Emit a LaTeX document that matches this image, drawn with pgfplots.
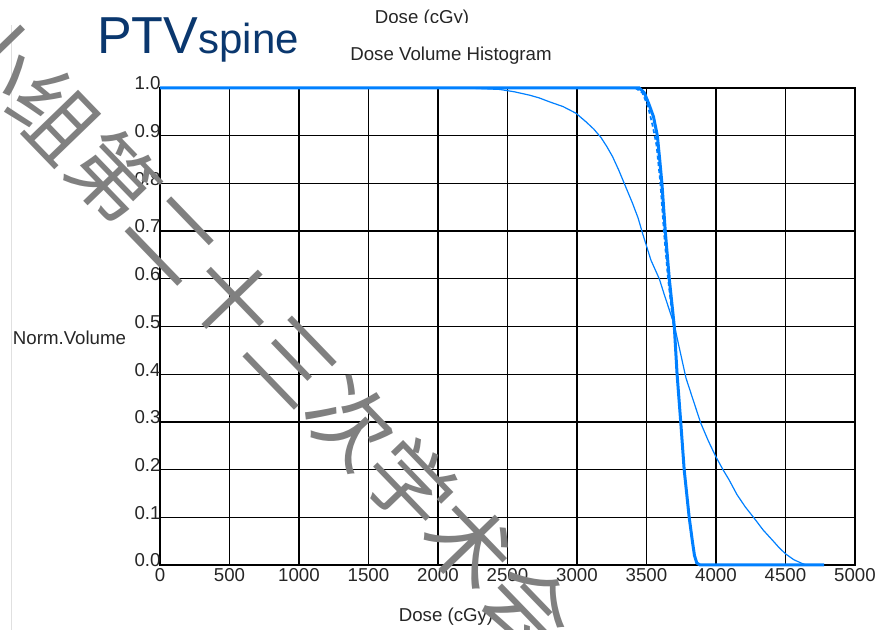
\documentclass[border=0pt]{standalone}
\usepackage{fontspec}
\setmainfont{Liberation Sans}
\newfontfamily\cjk{Noto Sans CJK SC}
\usepackage{pgfplots}
\pgfplotsset{compat=1.18}
\definecolor{dvhblue}{RGB}{0,128,255}
\definecolor{titleblue}{RGB}{10,55,110}
\definecolor{wmgray}{RGB}{128,128,128}
\begin{document}
\begin{tikzpicture}[x=0.75pt,y=0.75pt]
\useasboundingbox (0,0) rectangle (879,630);
\fill[white] (0,0) rectangle (879,630);
\draw[black!12, line width=0.75pt] (11,0) -- (11,605);
\begin{axis}[
  at={(120pt,48.75pt)}, anchor=south west,
  scale only axis, width=521.25pt, height=357.75pt,
  xmin=0, xmax=5000, ymin=0, ymax=1,
  xtick={0,500,1000,1500,2000,2500,3000,3500,4000,4500,5000},
  ytick={0,0.1,0.2,0.3,0.4,0.5,0.6,0.7,0.8,0.9,1.0},
  grid=major,
  major grid style={black, line width=1pt},
  axis line style={black, line width=1pt},
  major tick length=0pt,
  /pgf/number format/assume math mode=true,
  ticklabel style={font=\fontsize{14}{16}\selectfont, text=black!85},
  xticklabel style={anchor=north, yshift=-2.25pt, inner sep=0pt, /pgf/number format/1000 sep={}},
  yticklabel style={anchor=east, yshift=3.4pt, xshift=0.6pt, inner sep=0pt,
    /pgf/number format/.cd, fixed, fixed zerofill, precision=1},
  clip=false,
]
% thin curve
\addplot[dvhblue, line width=0.9pt] coordinates {
(0,1.0) (2200,1.0) (2443,0.997) (2550,0.992) (2658,0.985) (2730,0.979)
(2802,0.971) (2900,0.961) (2993,0.947) (3065,0.929) (3120,0.914) (3173,0.896)
(3215,0.877) (3256,0.856) (3300,0.828) (3340,0.80) (3400,0.758) (3440,0.727)
(3472,0.695) (3532,0.639) (3592,0.60) (3630,0.565) (3664,0.535) (3700,0.503)
(3740,0.45) (3784,0.392) (3840,0.342) (3891,0.297) (3945,0.26) (3999,0.227)
(4050,0.20) (4095,0.178) (4150,0.148) (4210,0.122) (4275,0.098) (4340,0.073)
(4406,0.052) (4455,0.036) (4502,0.023) (4560,0.011) (4621,0.003) (4650,0.0)
};
% dashed companion curve
\addplot[dvhblue, line width=1.3pt, densely dashed] coordinates {
(3420,1.0) (3470,0.99) (3510,0.962) (3545,0.92) (3572,0.88) (3600,0.80)
(3625,0.70) (3655,0.60) (3695,0.50)
};
% thick curve
\addplot[dvhblue, line width=2.25pt] coordinates {
(0,1.0) (3448,1.0) (3484,0.99) (3515,0.968) (3550,0.94) (3578,0.90)
(3595,0.85) (3611,0.80) (3635,0.70) (3664,0.60) (3700,0.50) (3720,0.40)
(3747,0.297) (3771,0.20) (3807,0.10) (3830,0.05) (3845,0.02) (3862,0.004) (3885,0.0)
(4777,0.0)
};
\end{axis}
% titles and labels
\begin{scope}
\clip (340,607) rectangle (520,630);
\node[anchor=north, inner sep=0pt, font=\fontsize{14}{16}\selectfont, text=black!85] at (422,620) {Dose (cGy)};
\end{scope}
\node[inner sep=0pt, font=\fontsize{14}{16}\selectfont, text=black!85] at (451,574) {Dose Volume Histogram};
\node[inner sep=0pt, font=\fontsize{14}{16}\selectfont, text=black!85] at (69.5,292.5) {Norm.Volume};
\node[inner sep=0pt, font=\fontsize{14}{16}\selectfont, text=black!85] at (446,13) {Dose (cGy)};
\node[anchor=base west, inner sep=0pt, text=titleblue] at (97,576) {\fontsize{39}{44}\selectfont PTV\fontsize{31.5}{36}\selectfont spine};
% watermark
\node[rotate=-46, inner sep=0pt, text=wmgray, font=\cjk\fontsize{64}{70}\selectfont] at (262.5,300) {小组第二十三次学术会};
\end{tikzpicture}
\end{document}
